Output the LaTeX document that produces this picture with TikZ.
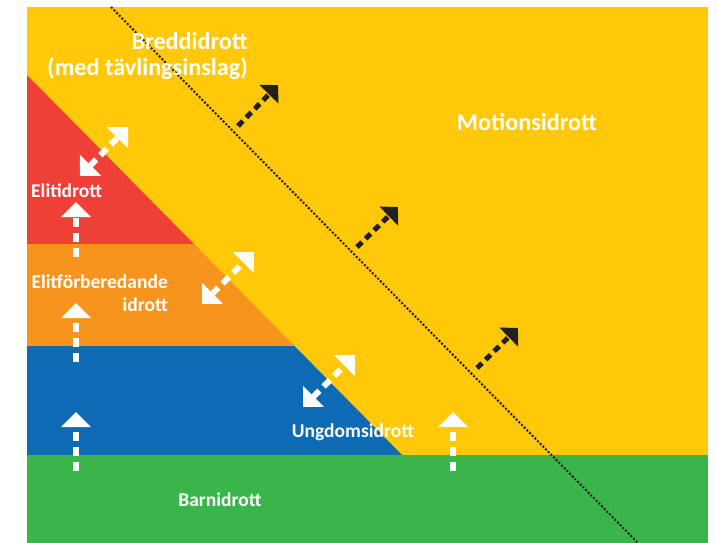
\documentclass[tikz,border=0pt]{standalone}
\usepackage{fontspec}
\setmainfont{Carlito}
\usepackage{tikz}
\usetikzlibrary{arrows.meta}

\definecolor{motionYellow}{RGB}{255,201,10}
\definecolor{elitRed}{RGB}{238,64,54}
\definecolor{forbOrange}{RGB}{247,148,30}
\definecolor{ungdomBlue}{RGB}{15,106,180}
\definecolor{barnGreen}{RGB}{57,181,74}
\definecolor{arrowBlack}{RGB}{35,31,32}

\begin{document}
\begin{tikzpicture}[x=1pt,y=-1pt]
\tikzset{
	bigLabel/.style=
	{text=white,font=\fontsize{24.2}{26}\selectfont\bfseries,inner sep=0pt},
	smallLabel/.style=
	{text=white,font=\fontsize{19.5}{23}\selectfont\bfseries,inner sep=0pt},
	upArrow/.style=
	{draw=white,line width=6pt,dash pattern=on 9pt off 6pt,
	-{Triangle[width=29pt,length=15pt]}},
	bothArrow/.style=
	{upArrow,{Triangle[width=29pt,length=15pt]}-{Triangle[width=29pt,length=15pt]}},
	outArrow/.style=
	{draw=arrowBlack,line width=5pt,dash pattern=on 7pt off 5pt,
	-{Triangle[width=26pt,length=13pt]}}}
\useasboundingbox (0,0) rectangle (717,543);

% bands
\fill[motionYellow] (27,7) rectangle (708,543);
\fill[elitRed] (27,75) -- (194,244) -- (27,244) -- cycle;
\fill[forbOrange] (27,244) -- (194,244) -- (294.5,346) -- (27,346) -- cycle;
\fill[ungdomBlue] (27,346) -- (294.5,346) -- (402,455) -- (27,455) -- cycle;
\fill[barnGreen] (27,455) rectangle (708,543);

% border of breddidrott
\coordinate (dotTop) at (111,7);
\coordinate (dotEnd) at (638,543);
\draw[arrowBlack,line width=2pt,dash pattern=on 2pt off 1.8pt] (dotTop) -- (dotEnd);

% labels
\node[bigLabel,align=right,anchor=east] (bredd) at (248,56)
	{Breddidrott\\(med tävlingsinslag)};
\node[bigLabel] (motion) at (527,122) {Motionsidrott};
\node[smallLabel,anchor=west] (elit) at (31,191) {Elitidrott};
\node[smallLabel,align=right,anchor=east] (forb) at (168,293)
	{Elitförberedande\\idrott};
\node[smallLabel] (ungdom) at (353,432) {Ungdomsidrott};
\node[smallLabel] (barn) at (220,500) {Barnidrott};

% arrows up
\draw[upArrow] (76,257) -- (76,202);
\draw[upArrow] (76,362) -- (76,303);
\draw[upArrow] (76,471) -- (76,412);
\draw[upArrow] (453,471) -- (453,412);

% arrows across
\draw[bothArrow] (80,176) -- (128,127);
\draw[bothArrow] (202,304) -- (254,252);
\draw[bothArrow] (303,407) -- (355,355);

% arrows out
\draw[outArrow] (238,126) -- (278,85);
\draw[outArrow] (357,247) -- (398,207);
\draw[outArrow] (477,368) -- (518,328);
\end{tikzpicture}
\end{document}
